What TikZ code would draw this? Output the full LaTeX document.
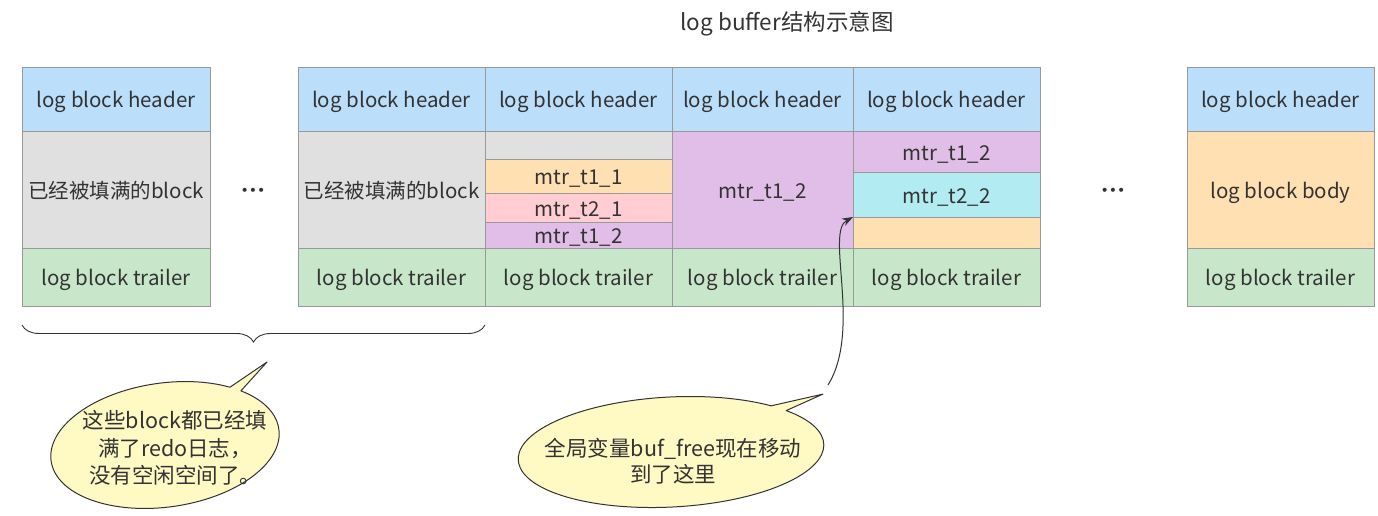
\documentclass[tikz,border=0pt]{standalone}
\usepackage{fontspec}
\setmainfont{Noto Sans CJK SC}
\newfontfamily\dejavu{DejaVu Sans}
\usetikzlibrary{decorations.pathreplacing,arrows.meta}
\definecolor{hdr}{HTML}{BBDEFB}
\definecolor{gry}{HTML}{E0E0E0}
\definecolor{trl}{HTML}{C8E6C9}
\definecolor{org}{HTML}{FFE0B2}
\definecolor{pnk}{HTML}{FFCDD2}
\definecolor{prp}{HTML}{E1BEE7}
\definecolor{cyn}{HTML}{B2EBF2}
\definecolor{ylw}{HTML}{FFF9C4}
\definecolor{txt}{HTML}{333333}
\definecolor{edge}{HTML}{999999}
\newcommand{\mkcell}[7]{%
  \pgfmathsetmacro{\cwd}{#4-#2}\pgfmathsetmacro{\cht}{#5-#3}%
  \node[cell,fill=#6,minimum width=\cwd pt,minimum height=\cht pt] (#1) at ({(#2+#4)/2},{(#3+#5)/2}) {#7};}
\begin{document}
\begin{tikzpicture}[x=1pt,y=-1pt,
  cell/.style={draw=edge,line width=0.8pt,inner sep=0pt,outer sep=0pt,text=txt,
    text height=17pt,text depth=0pt,font=\fontsize{20.5}{24}\selectfont},
  callout/.style={draw=txt,line width=1pt,fill=ylw,line join=round},
  callouttext/.style={text=txt,align=center,font=\fontsize{21.5}{27.5}\selectfont,inner sep=0pt},
  pointer/.style={draw=txt,line width=1pt,-{Stealth[length=11pt,width=8pt]}},
  dots/.style={text=txt,font=\dejavu\fontsize{14}{16}\selectfont,anchor=base}]
\useasboundingbox (0,0) rectangle (1378,515);
\node[text=txt,font=\fontsize{22.5}{26}\selectfont,anchor=base] (title) at (787,30) {log buffer结构示意图};
% block 1
\mkcell{h1}{22}{67}{210}{131}{hdr}{log block header}
\mkcell{m1}{22}{131}{210}{248}{gry}{已经被填满的block}
\mkcell{t1}{22}{248}{210}{306}{trl}{log block trailer}
% block 2
\mkcell{h2}{298}{67}{485}{131}{hdr}{log block header}
\mkcell{m2}{298}{131}{485}{248}{gry}{已经被填满的block}
\mkcell{t2}{298}{248}{485}{306}{trl}{log block trailer}
% block 3
\mkcell{h3}{485}{67}{672}{131}{hdr}{log block header}
\mkcell{m3a}{485}{131}{672}{159}{gry}{}
\mkcell{m3b}{485}{159}{672}{193}{org}{mtr\_t1\_1}
\mkcell{m3c}{485}{193}{672}{222}{pnk}{mtr\_t2\_1}
\mkcell{m3d}{485}{222}{672}{248}{prp}{mtr\_t1\_2}
\mkcell{t3}{485}{248}{672}{306}{trl}{log block trailer}
% block 4
\mkcell{h4}{672}{67}{853}{131}{hdr}{log block header}
\mkcell{m4}{672}{131}{853}{248}{prp}{mtr\_t1\_2}
\mkcell{t4}{672}{248}{853}{306}{trl}{log block trailer}
% block 5
\mkcell{h5}{853}{67}{1040}{131}{hdr}{log block header}
\mkcell{m5a}{853}{131}{1040}{172}{prp}{mtr\_t1\_2}
\mkcell{m5b}{853}{172}{1040}{217}{cyn}{mtr\_t2\_2}
\mkcell{m5c}{853}{217}{1040}{248}{org}{}
\mkcell{t5}{853}{248}{1040}{306}{trl}{log block trailer}
% block 6
\mkcell{h6}{1187}{67}{1374}{131}{hdr}{log block header}
\mkcell{m6}{1187}{131}{1374}{248}{org}{log block body}
\mkcell{t6}{1187}{248}{1374}{306}{trl}{log block trailer}
% dots
\node[dots] (dots1) at (253,195) {•••};
\node[dots] (dots2) at (1113,195) {•••};
% brace
\coordinate (braceL) at (22,325);
\coordinate (braceR) at (485,325);
\draw[txt,line width=0.9pt,decorate,decoration={brace,amplitude=17pt,mirror}] (braceL) -- (braceR);
% callout 1
\begin{scope}[shift={(165,445)},rotate=8]
  \draw[callout] (51:115pt and 62pt) arc[start angle=51,end angle=404,x radius=115pt,y radius=62pt] -- (112.6pt,68pt) -- cycle;
\end{scope}
\node[callouttext] (c1) at (175,448) {这些block都已经填\\满了redo日志，\\没有空闲空间了。};
% callout 2
\begin{scope}[shift={(671,452)},rotate=3]
  \draw[callout] (48:153pt and 55pt) arc[start angle=48,end angle=400,x radius=153pt,y radius=55pt] -- (154.8pt,49.9pt) -- cycle;
\end{scope}
\node[callouttext,font=\fontsize{21.5}{26}\selectfont] (c2) at (673,461) {全局变量buf\_free现在移动\\到了这里};
% arrow
\coordinate (arrowStart) at (828,385);
\draw[pointer] (arrowStart) .. controls (862,330) and (825,232) .. (m5c.north west);
\end{tikzpicture}
\end{document}
